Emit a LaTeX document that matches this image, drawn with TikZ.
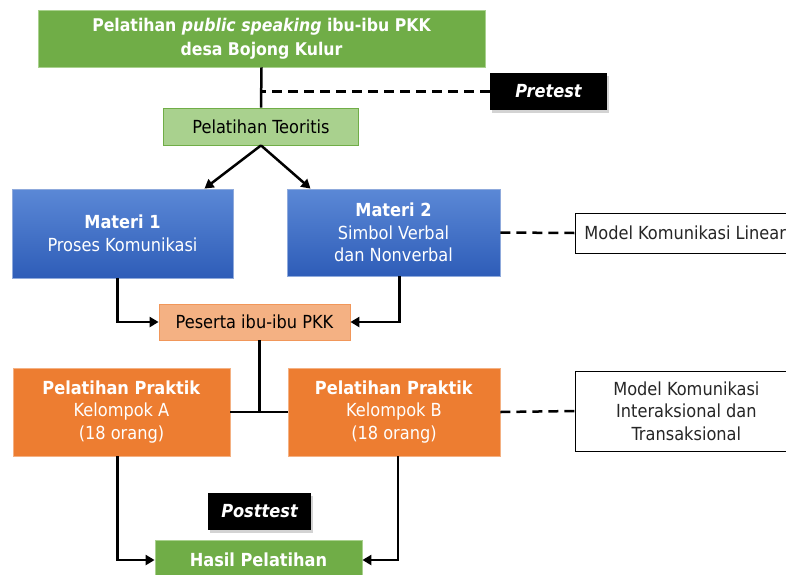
\documentclass[tikz,border=0pt]{standalone}
\usepackage{fontspec}
\setmainfont{DejaVu Sans Condensed}
\usetikzlibrary{arrows.meta,shadows}
\definecolor{hijau}{HTML}{70AD47}
\definecolor{hijaumuda}{HTML}{A9D18E}
\definecolor{oranye}{HTML}{ED7D31}
\definecolor{oranyemuda}{HTML}{F4B183}
\definecolor{biruatas}{HTML}{5B88D6}
\definecolor{birubawah}{HTML}{2E5DB8}
\definecolor{birugaris}{HTML}{8FAADC}
\begin{document}
\begin{tikzpicture}[x=1pt,y=-1pt,
    kotak/.style={draw,line width=0.8pt,align=center,font=\fontsize{18}{22.5}\selectfont,inner sep=2pt},
    judul/.style={kotak,fill=hijau,draw=hijaumuda,text=white,font=\fontsize{17.5}{24}\selectfont\bfseries},
    materi/.style={kotak,draw=birugaris,top color=biruatas,bottom color=birubawah,text=white},
    praktik/.style={kotak,fill=oranye,draw=oranyemuda,text=white},
    tes/.style={fill=black,text=white,font=\fontsize{18}{20}\selectfont\bfseries\itshape,
        drop shadow={shadow xshift=2pt,shadow yshift=-3pt,opacity=0.35}},
    model/.style={kotak,draw=black,fill=white,text=black!85},
    panah/.style={line width=2.5pt,-{Triangle[length=9pt,width=10pt]}},
    garis/.style={line width=2.5pt},
    putus/.style={line width=2.5pt,dash pattern=on 10pt off 6pt}]
    \useasboundingbox (0,0) rectangle (786,574);
    \node[judul,minimum width=447,minimum height=57] (judul) at (261.5,38.5) {Pelatihan \textit{public speaking} ibu-ibu PKK\\desa Bojong Kulur};
    \node[tes,minimum width=117,minimum height=37] (pre) at (548.5,91.5) {Pretest};
    \node[kotak,fill=hijaumuda,draw=hijau,minimum width=195,minimum height=37] (teori) at (261,126.5) {Pelatihan Teoritis};
    \node[materi,minimum width=221,minimum height=89] (m1) at (122.5,233.5) {\textbf{Materi 1}\\Proses Komunikasi};
    \node[materi,minimum width=213,minimum height=87] (m2) at (393.5,232.5) {\textbf{Materi 2}\\Simbol Verbal\\dan Nonverbal};
    \node[model,minimum height=40,inner xsep=9pt,anchor=west] (linear) at (575,233) {Model Komunikasi Linear\hspace*{30pt}};
    \node[kotak,fill=oranyemuda,draw=oranye!80,text=black,minimum width=191,minimum height=36] (peserta) at (254.5,322) {Peserta ibu-ibu PKK};
    \node[praktik,minimum width=217,minimum height=88] (pa) at (121.5,412) {\textbf{Pelatihan Praktik}\\Kelompok A\\(18 orang)};
    \node[praktik,minimum width=212,minimum height=88] (pb) at (394,412) {\textbf{Pelatihan Praktik}\\Kelompok B\\(18 orang)};
    \node[model,minimum width=222,minimum height=80,anchor=west] (interaksi) at (575,411) {Model Komunikasi\\Interaksional dan\\Transaksional};
    \node[tes,minimum width=103,minimum height=37] (post) at (259.5,511.5) {Posttest};
    \node[judul,font=\fontsize{18}{22}\selectfont\bfseries,minimum width=207,minimum height=40] (hasil) at (258.5,560) {Hasil Pelatihan};

    \draw[garis] (judul.south) -- (teori.north);
    \draw[putus] (pre.west) -- (pre.west -| teori.north);
    \draw[panah] (teori.south) -- ([xshift=82]m1.north);
    \draw[panah] (teori.south) -- ([xshift=-83]m2.north);
    \draw[putus] (m2.east) -- (linear.west);
    \draw[panah] ([xshift=-5]m1.south) |- (peserta.west);
    \draw[panah] ([xshift=6]m2.south) |- (peserta.east);
    \draw[garis] ([xshift=5]peserta.south) -- ([xshift=5]peserta.south |- pa.east);
    \draw[garis] (pa.east) -- (pb.west);
    \draw[putus] (pb.east) -- (interaksi.west);
    \draw[panah] ([xshift=-4]pa.south) |- (hasil.west);
    \draw[panah] ([xshift=4]pb.south) |- (hasil.east);
\end{tikzpicture}
\end{document}
